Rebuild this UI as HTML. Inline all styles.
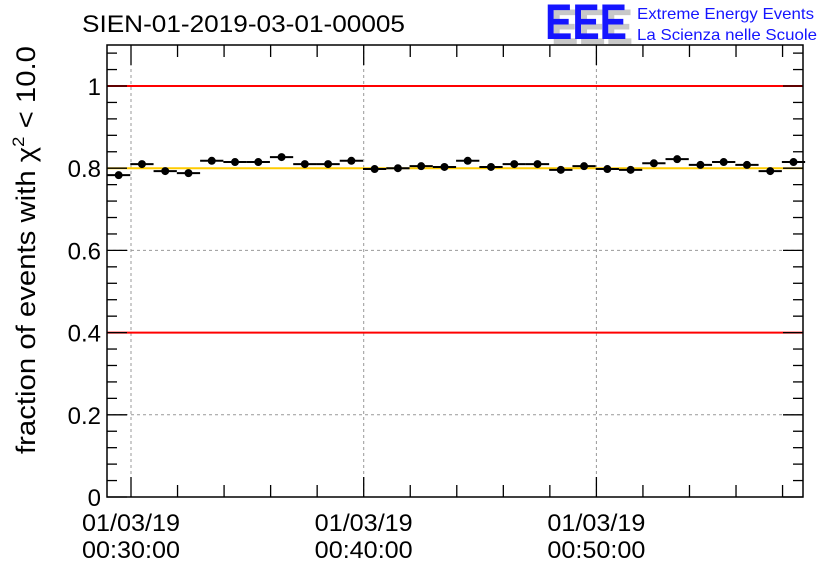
<!DOCTYPE html>
<html><head><meta charset="utf-8"><style>
body{margin:0;background:#fff;}
svg{display:block;font-family:"Liberation Sans",sans-serif;}
</style></head><body>
<svg id="c" width="836" height="572">
<text x="82" y="32" font-size="24" fill="#000" textLength="323" lengthAdjust="spacingAndGlyphs">SIEN-01-2019-03-01-00005</text>
<g>
<text x="551" y="44" font-size="50" font-weight="bold" fill="#c8c8c8" textLength="82" lengthAdjust="spacingAndGlyphs">EEE</text>
<text x="545" y="39" font-size="50" font-weight="bold" fill="#1515ff" textLength="82" lengthAdjust="spacingAndGlyphs">EEE</text>
<text x="637" y="19" font-size="16" fill="#1515ff" textLength="177" lengthAdjust="spacingAndGlyphs">Extreme Energy Events</text>
<text x="637" y="40" font-size="16" fill="#1515ff" textLength="180" lengthAdjust="spacingAndGlyphs">La Scienza nelle Scuole</text>
</g>
<text transform="translate(35,250) rotate(-90)" text-anchor="middle" font-size="27" textLength="408" lengthAdjust="spacingAndGlyphs">fraction of events with χ<tspan dy="-11" font-size="17">2</tspan><tspan dy="11"> &lt; 10.0</tspan></text>
<g id="plot"></g>
</svg>
<script>
const values=[0.783,0.810,0.793,0.788,0.818,0.815,0.815,0.827,0.810,0.810,0.818,0.798,0.800,0.805,0.803,0.818,0.803,0.810,0.810,0.796,0.805,0.798,0.796,0.812,0.822,0.808,0.815,0.808,0.793,0.815];
const yTicks=[0,0.2,0.4,0.6,0.8,1];
const yTickLabels=["0","0.2","0.4","0.6","0.8","1"];
const xTicks=[30,40,50];
const xTickLabels=[["01/03/19","00:30:00"],["01/03/19","00:40:00"],["01/03/19","00:50:00"]];
const refLines=[{v:1,c:"#ff0000"},{v:0.4,c:"#ff0000"},{v:0.8,c:"#ffcc00"}];
const startMin=28.97;
const L=107,R=803,T=45,B=497;
const X=m=>131+(m-30)*23.27;
const Y=v=>B-v*411;
const g=document.getElementById('plot');
const NS="http://www.w3.org/2000/svg";
function mk(t,a){const e=document.createElementNS(NS,t);for(const k in a)e.setAttribute(k,a[k]);g.appendChild(e);return e;}
yTicks.slice(1,-1).forEach(v=>{const e=mk('line',{x1:L,x2:R,y1:Y(v),y2:Y(v),stroke:'#999','stroke-dasharray':'3,3'});

});
xTicks.forEach(m=>{const e=mk('line',{x1:X(m),x2:X(m),y1:T,y2:B,stroke:'#999','stroke-dasharray':'3,3'});

});
refLines.forEach(r=>{const e=mk('line',{x1:L,x2:R,y1:Y(r.v),y2:Y(r.v),stroke:r.c,'stroke-width':2});

});
const fr=mk('rect',{x:L,y:T,width:R-L,height:B-T,fill:'none',stroke:'#000','stroke-width':1.5});


for(let v=0;v<=1.1001;v+=0.04){const maj=Math.abs(v*5-Math.round(v*5))<1e-6;const len=maj?20:10;
mk('line',{x1:L,x2:L+len,y1:Y(v),y2:Y(v),stroke:'#000','stroke-width':1.3});
mk('line',{x1:R,x2:R-len,y1:Y(v),y2:Y(v),stroke:'#000','stroke-width':1.3});}
yTicks.forEach((v,i)=>{const t=mk('text',{x:L-6,y:Y(v)+9,'text-anchor':'end','font-size':24});t.textContent=yTickLabels[i];

});
for(let m=30;m<=58;m+=2){const maj=(m%10===0);const len=maj?20:12;
mk('line',{x1:X(m),x2:X(m),y1:B,y2:B-len,stroke:'#000','stroke-width':1.3});
mk('line',{x1:X(m),x2:X(m),y1:T,y2:T+len,stroke:'#000','stroke-width':1.3});}
xTicks.forEach((m,i)=>{const t=mk('text',{x:X(m)-49,y:531,'font-size':24,textLength:98,lengthAdjust:'spacingAndGlyphs'});t.textContent=xTickLabels[i][0];


const t2=mk('text',{x:X(m)-49,y:558,'font-size':24,textLength:98,lengthAdjust:'spacingAndGlyphs'});t2.textContent=xTickLabels[i][1];

});
values.forEach((v,i)=>{const c=startMin+i+0.5;
const h=mk('line',{x1:X(c-0.5),x2:X(c+0.5),y1:Y(v),y2:Y(v),stroke:'#000','stroke-width':2});


const p=mk('circle',{cx:X(c),cy:Y(v),r:4,fill:'#000'});

});
</script>
</body></html>
